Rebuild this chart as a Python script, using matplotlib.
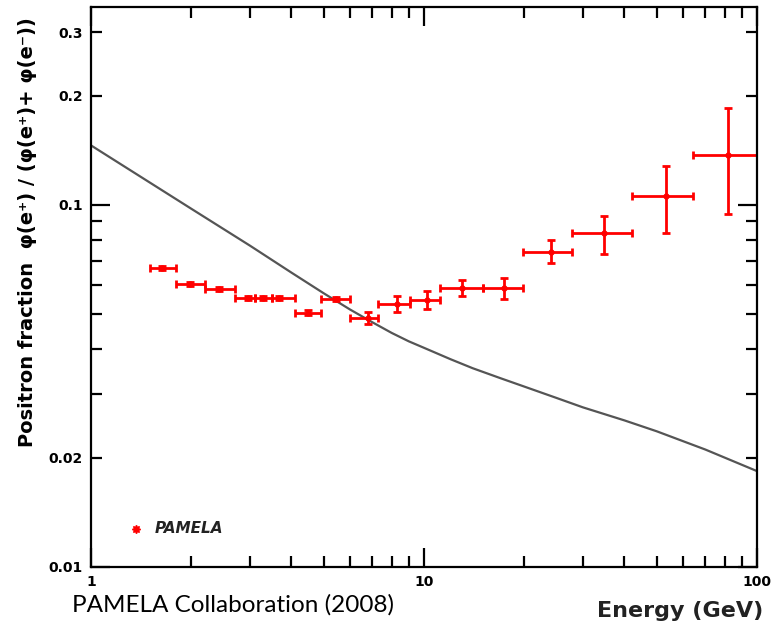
import numpy as np
import matplotlib.pyplot as plt
from matplotlib.ticker import FixedLocator, FuncFormatter

# PAMELA positron fraction, energy bins in GeV
bin_lo = [1.5, 1.8, 2.2, 2.7, 3.1, 3.5, 4.1, 4.9, 6.0, 7.3, 9.1, 11.2, 15.0, 19.8, 27.8, 42.1, 64.2]
bin_hi = [1.8, 2.2, 2.7, 3.1, 3.5, 4.1, 4.9, 6.0, 7.3, 9.1, 11.2, 15.0, 19.8, 27.8, 42.1, 64.2, 100.0]
energy = [1.63, 1.98, 2.42, 2.96, 3.29, 3.67, 4.48, 5.44, 6.79, 8.30, 10.2, 13.0, 17.4, 24.1, 34.7, 53.3, 81.8]
fraction = [0.067, 0.0605, 0.0586, 0.0554, 0.0554, 0.0554, 0.0503, 0.055, 0.0488,
            0.0533, 0.0547, 0.059, 0.059, 0.0742, 0.0837, 0.106, 0.137]
err_lo = [0.0008, 0.0008, 0.0008, 0.0008, 0.0008, 0.0008, 0.0008, 0.0008, 0.0018,
          0.0026, 0.003, 0.0031, 0.0039, 0.0051, 0.0105, 0.0223, 0.0426]
err_hi = [0.0008, 0.0008, 0.0008, 0.0008, 0.0008, 0.0008, 0.0008, 0.0008, 0.0018,
          0.0026, 0.003, 0.0031, 0.0039, 0.0058, 0.0093, 0.022, 0.048]

# secondary production model curve
model_E = [1, 2, 3, 4, 5, 6, 7, 8, 9, 10, 12, 14, 17, 20, 25, 30, 40, 50, 70, 100]
model_f = [0.146, 0.0976, 0.0772, 0.065, 0.057, 0.0514, 0.0474, 0.0443, 0.042, 0.0403,
           0.0375, 0.0354, 0.0332, 0.0315, 0.0293, 0.0276, 0.0254, 0.0237, 0.0211, 0.0184]

energy = np.array(energy)
xerr = [energy - np.array(bin_lo), np.array(bin_hi) - energy]
yerr = [err_lo, err_hi]

fig = plt.figure(figsize=(7.72, 6.28), dpi=100)
ax = fig.add_axes([91/772, 61/628, 666/772, 560/628])

ax.plot(model_E, model_f, color='#555555', lw=1.6)
ax.errorbar(energy, fraction, xerr=xerr, yerr=yerr, fmt='o', color='red', ms=3.5,
            elinewidth=2, capsize=3, capthick=2)

ax.set_xscale('log')
ax.set_yscale('log')
ax.set_xlim(1, 100)
ax.set_ylim(0.01, 0.352)

ax.xaxis.set_major_locator(FixedLocator([1, 10, 100]))
ax.xaxis.set_minor_locator(FixedLocator([2, 3, 4, 5, 6, 7, 8, 9, 20, 30, 40, 50, 60, 70, 80, 90]))
ax.xaxis.set_major_formatter(FuncFormatter(lambda v, p: '%g' % v))
ax.xaxis.set_minor_formatter(FuncFormatter(lambda v, p: ''))

ax.yaxis.set_major_locator(FixedLocator([0.01, 0.1]))
ax.yaxis.set_minor_locator(FixedLocator([0.02, 0.03, 0.04, 0.05, 0.06, 0.07, 0.08, 0.09, 0.2, 0.3]))
ax.yaxis.set_major_formatter(FuncFormatter(lambda v, p: '%g' % v))
ax.yaxis.set_minor_formatter(FuncFormatter(lambda v, p: '%g' % v if round(v, 3) in (0.02, 0.2, 0.3) else ''))

ax.tick_params(which='both', direction='in', top=True, right=True, width=1.6,
               labelsize=10, pad=6)
ax.tick_params(which='major', length=14)
ax.tick_params(which='minor', length=8)
for lab in ax.get_xticklabels(which='both') + ax.get_yticklabels(which='both'):
    lab.set_fontweight('bold')
for s in ax.spines.values():
    s.set_linewidth(1.6)

# legend
ax.plot([0.0676], [0.068], marker=(8, 1, 0), color='red', ms=6, transform=ax.transAxes)
ax.text(0.096, 0.068, 'PAMELA', transform=ax.transAxes, fontsize=11,
        fontweight='bold', style='italic', va='center', color='#222222')

fig.text(28/772, 1 - 232/628, 'Positron fraction  φ(e⁺) / (φ(e⁺)+ φ(e⁻))',
         rotation=90, ha='center', va='center', fontsize=14, fontweight='bold')
fig.text(763/772, 1 - 617/628, 'Energy (GeV)', ha='right', va='baseline',
         fontsize=16, fontweight='bold', color='#222222')
fig.text(72/772, 1 - 612/628, 'PAMELA Collaboration (2008)', ha='left', va='baseline',
         fontsize=17.5, family='Lato')

fig.savefig('out.png', dpi=100)
